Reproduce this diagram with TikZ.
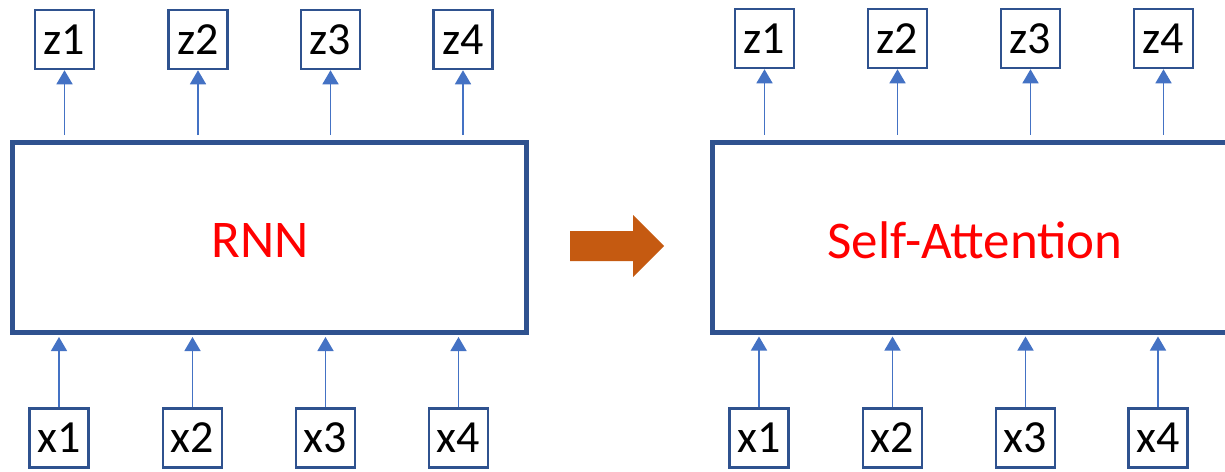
\documentclass[tikz,border=0pt]{standalone}
\usepackage{fontspec}
\setmainfont{Carlito}
\usepackage{tikz}
\usetikzlibrary{arrows.meta}
\definecolor{boxblue}{HTML}{2F528F}
\definecolor{arrowblue}{HTML}{4472C4}
\definecolor{bigarrow}{HTML}{C55A11}

\begin{document}
\begin{tikzpicture}[x=1pt,y=-1pt,
		vec/.style={rectangle,draw=boxblue,line width=2.5pt,minimum size=59pt,inner sep=0pt,fill=white,font=\fontsize{46}{50}\selectfont},
		layer/.style={rectangle,draw=boxblue,line width=5pt,minimum width=514pt,minimum height=190pt},
		flow/.style={draw=arrowblue,line width=1.5pt,-{Triangle[width=16pt,length=14pt]}},
		layertitle/.style={text=red,font=\fontsize{53}{58}\selectfont}]
		\clip (0,0) rectangle (1225,471);
		% RNN side
		\node [layer] (rnn) at (269,237.5) {};
		\node [layertitle] (rnnlabel) at (260,240) {RNN};
		\node [vec] (z1) at (64.5,39.5) {z1};
		\node [vec] (z2) at (198,39.5) {z2};
		\node [vec] (z3) at (330.5,39.5) {z3};
		\node [vec] (z4) at (463,39.5) {z4};
		\node [vec] (x1) at (59,438) {x1};
		\node [vec] (x2) at (192.5,438) {x2};
		\node [vec] (x3) at (325.5,438) {x3};
		\node [vec] (x4) at (458.5,438) {x4};
		\draw [flow] ([yshift=5pt]rnn.north -| z1) -- (z1);
		\draw [flow] ([yshift=5pt]rnn.north -| z2) -- (z2);
		\draw [flow] ([yshift=5pt]rnn.north -| z3) -- (z3);
		\draw [flow] ([yshift=5pt]rnn.north -| z4) -- (z4);
		\draw [flow] (x1) -- ([yshift=-2pt]rnn.south -| x1);
		\draw [flow] (x2) -- ([yshift=-2pt]rnn.south -| x2);
		\draw [flow] (x3) -- ([yshift=-2pt]rnn.south -| x3);
		\draw [flow] (x4) -- ([yshift=-2pt]rnn.south -| x4);
		% big arrow
		\fill [bigarrow] (570,231) -- (633,231) -- (633,215) -- (664,246) -- (633,277) -- (633,261) -- (570,261) -- cycle;
		% Self-Attention side
		\node [layer,minimum width=522pt] (sa) at (973.5,237) {};
		\node [layertitle] (salabel) at (975,240) {Self-Attention};
		\node [vec] (sz1) at (764.5,38.5) {z1};
		\node [vec] (sz2) at (897.5,38.5) {z2};
		\node [vec] (sz3) at (1030.5,38.5) {z3};
		\node [vec] (sz4) at (1163.5,38.5) {z4};
		\node [vec] (sx1) at (759,438) {x1};
		\node [vec] (sx2) at (892.5,438) {x2};
		\node [vec] (sx3) at (1025.5,438) {x3};
		\node [vec] (sx4) at (1158,438) {x4};
		\draw [flow] ([yshift=5pt]sa.north -| sz1) -- (sz1);
		\draw [flow] ([yshift=5pt]sa.north -| sz2) -- (sz2);
		\draw [flow] ([yshift=5pt]sa.north -| sz3) -- (sz3);
		\draw [flow] ([yshift=5pt]sa.north -| sz4) -- (sz4);
		\draw [flow] (sx1) -- ([yshift=-2pt]sa.south -| sx1);
		\draw [flow] (sx2) -- ([yshift=-2pt]sa.south -| sx2);
		\draw [flow] (sx3) -- ([yshift=-2pt]sa.south -| sx3);
		\draw [flow] (sx4) -- ([yshift=-2pt]sa.south -| sx4);
\end{tikzpicture}
\end{document}
